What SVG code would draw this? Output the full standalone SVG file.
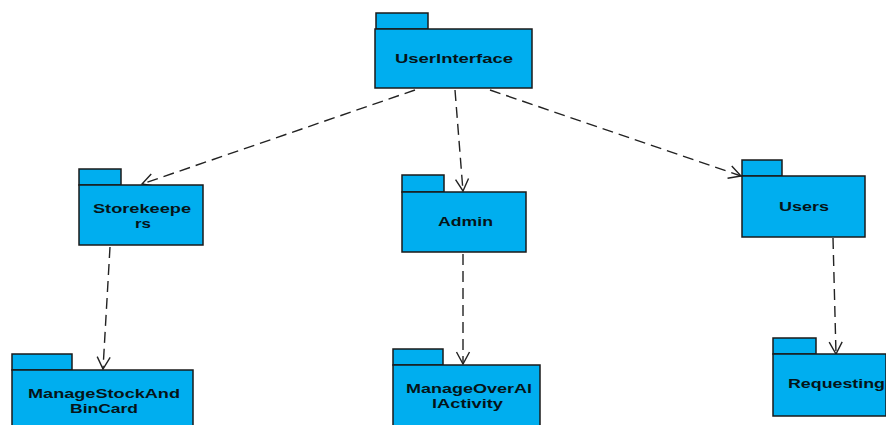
<svg xmlns="http://www.w3.org/2000/svg" width="886" height="425" viewBox="0 0 886 425">
<defs>
<style>
.pk{fill:#00aeef;stroke:#1a1a1a;stroke-width:1.5}
.lb{font-family:"Liberation Sans",Arial,sans-serif;font-weight:bold;font-size:13px;fill:#061418;text-anchor:middle}
.cn{stroke:#222;stroke-width:1.4;fill:none;stroke-dasharray:11 6;marker-end:url(#arr)}
</style>
<marker id="arr" markerUnits="userSpaceOnUse" markerWidth="16" markerHeight="16" viewBox="0 0 16 16" refX="14" refY="8" orient="auto">
<path d="M2,1.5 L14,8 L2,14.5" fill="none" stroke="#222" stroke-width="1.4"/>
</marker>
</defs>
<rect width="886" height="425" fill="#fff"/>
<g id="connectors">
<line class="cn" x1="415" y1="90" x2="142" y2="184"/>
<line class="cn" x1="455" y1="90" x2="463" y2="191"/>
<line class="cn" x1="490" y1="90" x2="741" y2="176"/>
<line class="cn" x1="110" y1="247" x2="103" y2="369"/>
<line class="cn" x1="463" y1="254" x2="463" y2="364"/>
<line class="cn" x1="833" y1="238" x2="836" y2="354"/>
</g>
<g id="UserInterface">
<rect class="pk" x="376" y="13" width="52" height="16"/>
<rect class="pk" x="375" y="29" width="157" height="59"/>
<text class="lb" x="454" y="63" textLength="118" lengthAdjust="spacingAndGlyphs">UserInterface</text>
</g>
<g id="Storekeepers">
<rect class="pk" x="79" y="169" width="42" height="16"/>
<rect class="pk" x="79" y="185" width="124" height="60"/>
<text class="lb" x="142" y="213" textLength="98" lengthAdjust="spacingAndGlyphs">Storekeepe</text>
<text class="lb" x="143" y="228" textLength="16" lengthAdjust="spacingAndGlyphs">rs</text>
</g>
<g id="Admin">
<rect class="pk" x="402" y="175" width="42" height="17"/>
<rect class="pk" x="402" y="192" width="124" height="60"/>
<text class="lb" x="465.5" y="226" textLength="55" lengthAdjust="spacingAndGlyphs">Admin</text>
</g>
<g id="Users">
<rect class="pk" x="742" y="160" width="40" height="16"/>
<rect class="pk" x="742" y="176" width="123" height="61"/>
<text class="lb" x="804" y="211" textLength="50" lengthAdjust="spacingAndGlyphs">Users</text>
</g>
<g id="ManageStockAndBinCard">
<rect class="pk" x="12" y="354" width="60" height="16"/>
<rect class="pk" x="12" y="370" width="181" height="70"/>
<text class="lb" x="104" y="398" textLength="152" lengthAdjust="spacingAndGlyphs">ManageStockAnd</text>
<text class="lb" x="104" y="413" textLength="68" lengthAdjust="spacingAndGlyphs">BinCard</text>
</g>
<g id="ManageOverAllActivity">
<rect class="pk" x="393" y="349" width="50" height="16"/>
<rect class="pk" x="393" y="365" width="147" height="70"/>
<text class="lb" x="469" y="393" textLength="126" lengthAdjust="spacingAndGlyphs">ManageOverAl</text>
<text class="lb" x="467.5" y="408" textLength="71" lengthAdjust="spacingAndGlyphs">lActivity</text>
</g>
<g id="Requesting">
<rect class="pk" x="773" y="338" width="43" height="16"/>
<rect class="pk" x="773" y="354" width="113" height="62"/>
<text class="lb" x="836.5" y="388" textLength="97" lengthAdjust="spacingAndGlyphs">Requesting</text>
</g>
</svg>
